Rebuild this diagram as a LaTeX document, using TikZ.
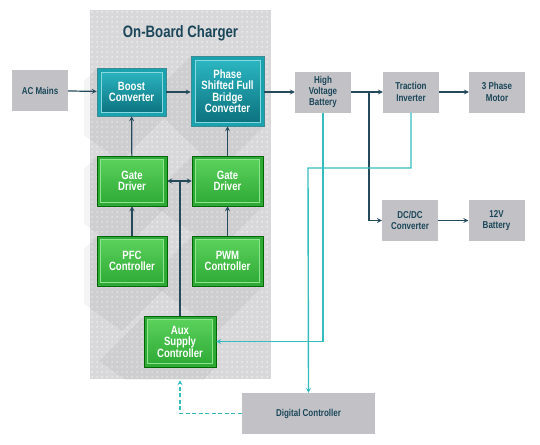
\documentclass[tikz,border=0pt]{standalone}
\usepackage{fontspec}
\setmainfont{Liberation Sans}[FakeStretch=0.8]
\usetikzlibrary{arrows.meta,patterns.meta}
\definecolor{darkline}{HTML}{24495A}
\definecolor{tealline}{HTML}{35BDBD}
\definecolor{boxgray}{HTML}{C2C2C6}
\definecolor{txtdark}{HTML}{1B4659}
\definecolor{panelgray}{HTML}{D8D8DA}
\definecolor{tealout}{HTML}{1AA3AF}
\definecolor{tealin}{HTML}{86D8DE}
\definecolor{tealtop}{HTML}{2DBAC5}
\definecolor{tealbot}{HTML}{0A6E7B}
\definecolor{greenout}{HTML}{2DAA33}
\definecolor{greenin}{HTML}{8EE48E}
\definecolor{greentop}{HTML}{5ED45E}
\definecolor{greenbot}{HTML}{2CA834}
\tikzdeclarepattern{name=wdots,type=uncolored,
  bounding box={(0pt,0pt) and (5pt,5pt)},tile size={(5pt,5pt)},
  code={\fill (2.5pt,2.5pt) circle (0.85pt);}}
\tikzset{
  txt/.style={font=\bfseries\fontsize{10}{11.3}\selectfont,align=center},
  wtxt/.style={font=\bfseries\fontsize{12}{11.5}\selectfont,align=center},
  graybox/.style={txt,fill=boxgray,text=txtdark,inner sep=0pt,minimum width=56pt,minimum height=41pt},
  tealbox/.style={wtxt,fill=tealout,draw=tealbot!80,line width=0.6pt,text=white,inner sep=0pt,
    path picture={\shade[top color=tealtop,bottom color=tealbot]
      ([shift={(4pt,-4pt)}]path picture bounding box.north west) rectangle
      ([shift={(-4pt,4pt)}]path picture bounding box.south east);
      \draw[tealin,line width=0.9pt]
      ([shift={(4pt,-4pt)}]path picture bounding box.north west) rectangle
      ([shift={(-4pt,4pt)}]path picture bounding box.south east);}},
  greenbox/.style={wtxt,fill=greenout,draw=green!40!black,line width=0.5pt,text=white,inner sep=0pt,
    minimum width=70pt,minimum height=50pt,
    path picture={\shade[top color=greentop,bottom color=greenbot]
      ([shift={(3.5pt,-3.5pt)}]path picture bounding box.north west) rectangle
      ([shift={(-3.5pt,3.5pt)}]path picture bounding box.south east);
      \draw[greenin,line width=0.9pt]
      ([shift={(3.5pt,-3.5pt)}]path picture bounding box.north west) rectangle
      ([shift={(-3.5pt,3.5pt)}]path picture bounding box.south east);}},
  arr/.style={-{Stealth[length=5pt,width=5pt,inset=2pt]}},
  dline/.style={draw=darkline,line width=1.2pt,arr},
  tline/.style={draw=tealline,line width=1.4pt,arr},
  lshadow/.style={fill=black,opacity=0.045}
}
\begin{document}
\begin{tikzpicture}[x=1pt,y=-1pt]
\useasboundingbox (0,0) rectangle (540,444);
% panel
\fill[panelgray] (90,10) rectangle (271,379);
\fill[pattern=wdots,pattern color=white] (90,10) rectangle (271,379);
\node[font=\bfseries\fontsize{16.5}{19}\selectfont,text=txtdark] (title) at (180.5,33) {On-Board Charger};
% long shadows
\begin{scope}
\clip (84,10) rectangle (271,379);
\fill[lshadow] (97,68) -- ++(-45,45) -- (121,161) -- (166,116) -- cycle;
\fill[lshadow] (191,56) -- ++(-45,45) -- (219,171) -- (264,126) -- cycle;
\fill[lshadow] (97,156) -- ++(-45,45) -- (122,251) -- (167,206) -- cycle;
\fill[lshadow] (192,156) -- ++(-45,45) -- (218,251) -- (263,206) -- cycle;
\fill[lshadow] (97,236) -- ++(-45,45) -- (122,331) -- (167,286) -- cycle;
\fill[lshadow] (192,236) -- ++(-45,45) -- (218,331) -- (263,286) -- cycle;
\fill[lshadow] (144,316) -- ++(-45,45) -- (171,412) -- (216,367) -- cycle;
\end{scope}
% nodes
\node[graybox] (ac) at (40,90.5) {AC Mains};
\node[tealbox,minimum width=69pt,minimum height=48pt] (boost) at (131.5,92) {Boost\\Converter};
\node[tealbox,minimum width=73pt,minimum height=70pt] (psfb) at (227.5,91) {Phase\\Shifted Full\\Bridge\\Converter};
\node[graybox] (hv) at (323,92) {High\\Voltage\\Battery};
\node[graybox] (ti) at (411,92) {Traction\\Inverter};
\node[graybox] (motor) at (497,92) {3 Phase\\Motor};
\node[graybox] (dcdc) at (410,220.5) {DC/DC\\Converter};
\node[graybox] (bat) at (496.5,220.5) {12V\\Battery};
\node[greenbox] (gdl) at (132,181) {Gate\\Driver};
\node[greenbox,minimum width=71pt] (gdr) at (227.5,181) {Gate\\Driver};
\node[greenbox] (pfc) at (132,261) {PFC\\Controller};
\node[greenbox,minimum width=71pt] (pwm) at (227.5,261) {PWM\\Controller};
\node[greenbox,minimum width=72pt,minimum height=51pt] (aux) at (180,341.5) {Aux\\Supply\\Controller};
\node[graybox,minimum width=133pt] (dc) at (308.5,413.5) {Digital Controller};
\coordinate (br) at (369,92);
\coordinate (tj) at (308,168);
% dark connectors
\draw[dline] (ac) -- (boost);
\draw[dline] (boost.east) -- (boost.east -| psfb.west);
\draw[dline] (psfb.east |- hv.west) -- (hv.west);
\draw[dline] (hv) -- (ti);
\draw[dline] (ti) -- (motor);
\draw[dline] (br) |- (dcdc.west);
\draw[dline] (dcdc) -- (bat);
\draw[dline] (gdl) -- (boost);
\draw[dline] (gdr) -- (psfb);
\draw[dline] (pfc) -- (gdl);
\draw[dline] (pwm) -- (gdr);
\draw[dline,{Stealth[length=5pt,width=5pt,inset=2pt]}-{Stealth[length=5pt,width=5pt,inset=2pt]}] (gdl) -- (gdr);
\draw[draw=darkline,line width=1.2pt] (aux.north) -- (aux.north |- gdl.east);
% teal connectors
\draw[tline] (ti.south) |- (tj) -- (dc.north);
\draw[tline] (hv.south) |- (aux.east);
\draw[tline,dashed,dash pattern=on 4pt off 2.5pt,shorten >=13pt] (dc.west) -| (aux.south);
\end{tikzpicture}
\end{document}
